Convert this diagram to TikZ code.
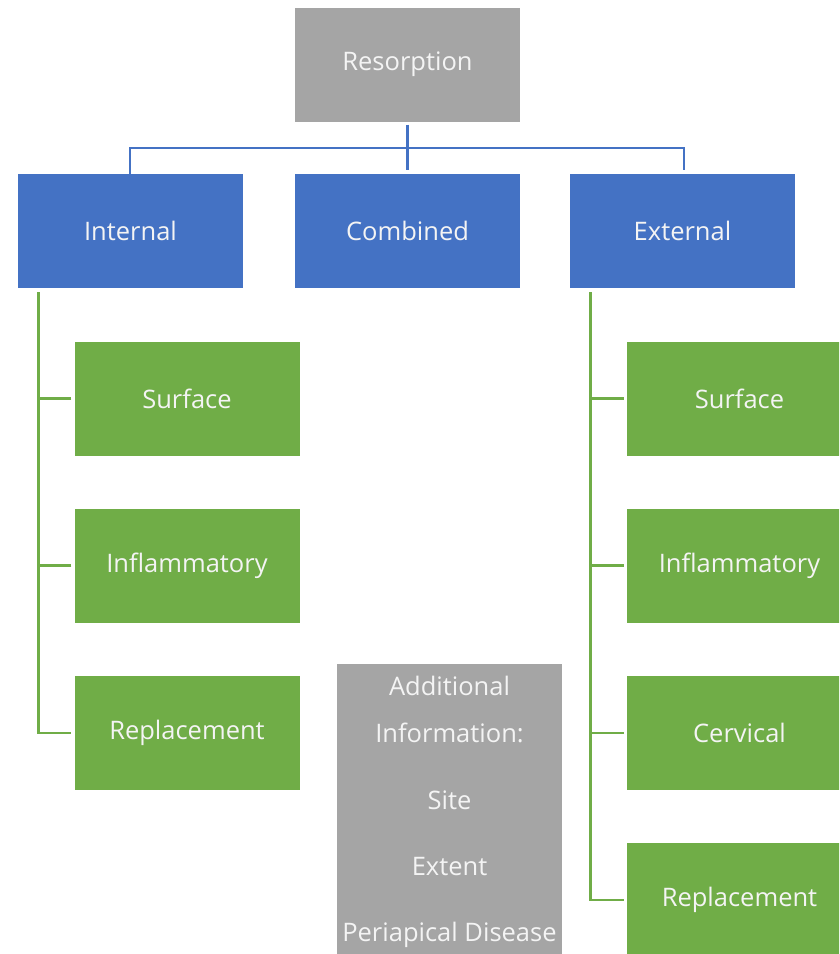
\documentclass[tikz,border=0pt]{standalone}
\usepackage{fontspec}
\setmainfont{Open Sans}
\usetikzlibrary{calc}
\definecolor{boxgray}{HTML}{A5A5A5}
\definecolor{boxblue}{HTML}{4472C4}
\definecolor{boxgreen}{HTML}{70AD47}
\definecolor{txt}{HTML}{F4F4F4}
\tikzset{
  card/.style={minimum width=225pt, minimum height=114pt, inner sep=0pt,
    text=txt, font=\fontsize{25.5}{30}\selectfont},
  graycard/.style={card, fill=boxgray},
  bluecard/.style={card, fill=boxblue},
  greencard/.style={card, fill=boxgreen},
  infotext/.style={text=txt, font=\fontsize{25.5}{30}\selectfont, inner sep=0pt, anchor=base},
  bline/.style={draw=boxblue, line width=2.8pt},
  gline/.style={draw=boxgreen, line width=2.8pt},
}
\begin{document}
\begin{tikzpicture}[x=1pt, y=-1pt]
  \useasboundingbox (0,0) rectangle (839,954);
  \clip (0,0) rectangle (839,954);

  % top level
  \node[graycard] (res) at (407.5,64.5) {Resorption};

  % second level
  \node[bluecard] (int) at (130.5,231) {Internal};
  \node[bluecard] (com) at (407.5,231) {Combined};
  \node[bluecard] (ext) at (682.5,231) {External};

  % internal branch
  \node[greencard] (isur) at (187,398.5) {Surface};
  \node[greencard] (iinf) at (187,565.5) {Inflammatory};
  \node[greencard] (irep) at (187,733) {Replacement};

  % external branch
  \node[greencard] (esur) at (739.5,398.5) {Surface};
  \node[greencard] (einf) at (739.5,565.5) {Inflammatory};
  \node[greencard] (ecer) at (739.5,733) {Cervical};
  \node[greencard] (erep) at (739.5,900) {Replacement};

  % additional information panel
  \node[fill=boxgray, minimum width=225pt, minimum height=300pt, inner sep=0pt,
        anchor=north] (info) at (449.5,664) {};
  \node[infotext] (i1) at (449.5,695) {Additional};
  \node[infotext] (i2) at (449.5,742) {Information:};
  \node[infotext] (i3) at (449.5,809) {Site};
  \node[infotext] (i4) at (449.5,875) {Extent};
  \node[infotext] (i5) at (449.5,941) {Periapical Disease};

  % blue connectors
  \coordinate (bar) at (0,148);
  \draw[bline, shorten <=3pt] (res.south) -- (res.south |- bar);
  \draw[bline, shorten >=4pt] (res.south |- bar) -- (com.north);
  \draw[bline, shorten >=4pt] (int.north -| 130,0) -- (130,148) -- (684,148) -- (ext.north -| 684,0);

  % green connectors, internal
  \coordinate (itop) at ($(int.south west)+(21,4)$);
  \draw[gline] (itop) |- ([xshift=-3pt]irep.west);
  \draw[gline] ([xshift=-3pt]isur.west) -- (isur.west -| itop);
  \draw[gline] ([xshift=-3pt]iinf.west) -- (iinf.west -| itop);

  % green connectors, external
  \coordinate (etop) at ($(ext.south west)+(21,4)$);
  \draw[gline] (etop) |- ([xshift=-3pt]erep.west);
  \draw[gline] ([xshift=-3pt]esur.west) -- (esur.west -| etop);
  \draw[gline] ([xshift=-3pt]einf.west) -- (einf.west -| etop);
  \draw[gline] ([xshift=-3pt]ecer.west) -- (ecer.west -| etop);
\end{tikzpicture}
\end{document}
